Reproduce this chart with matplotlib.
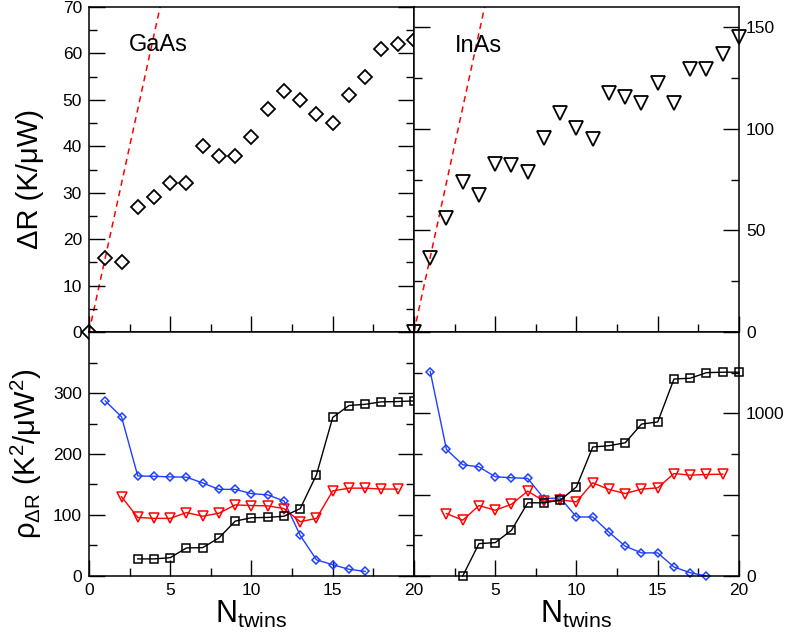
import numpy as np
import matplotlib
matplotlib.use('Agg')
import matplotlib.pyplot as plt
from matplotlib.ticker import MultipleLocator

plt.rcParams['font.family'] = ['Liberation Sans', 'DejaVu Sans']
plt.rcParams['mathtext.fontset'] = 'custom'
plt.rcParams['mathtext.rm'] = 'Liberation Sans'
plt.rcParams['mathtext.it'] = 'Liberation Sans:italic'

## top panels: thermal resistance vs number of twins
n_all = list(range(21))
gaas_dR = [0, 16, 15, 27, 29, 32, 32, 40, 38, 38, 42, 48, 52, 50, 47, 45, 51, 55, 61, 62, 63]
inas_dR = [0, 36.4, 56, 74, 67.5, 82.8, 82, 78.7, 95.4, 107.7, 100.6, 95, 117.5, 115.6,
           112.6, 122.5, 112.6, 129.5, 129.5, 136.7, 145]
gaas_slope = 16.0
inas_slope = 36.8

## bottom panels: rho_dR
n_blue = list(range(1, 18))
gaas_blue = [287, 261, 164, 163.5, 162.5, 162, 152.5, 142, 142, 135, 133, 123, 66.5, 26.5, 18.5, 11, 7.5]
n_red = list(range(2, 20))
gaas_red = [130, 96, 94.5, 94.5, 104, 98, 103, 116.5, 115.5, 115, 110.5, 89, 94.5, 139.5, 144, 144, 142.5, 142.5]
n_blk = list(range(3, 21))
gaas_blk = [28, 28, 30, 46, 46.5, 62.5, 90, 95.5, 96, 98, 110.5, 166, 260, 279.5, 281.5, 285.5, 286, 287]

n_blue2 = list(range(1, 19))
inas_blue = [1257, 778, 684, 671, 610, 604, 600, 476, 480, 363, 363, 269, 183, 142, 142, 55, 20, 0]
inas_red = [384, 343, 433, 404, 441, 522, 460, 468, 456, 573, 532, 507, 534, 542, 630, 620, 624, 626]
inas_blk = [0, 199, 205, 281, 450, 450, 466, 548, 793, 801, 819, 934, 947, 1211, 1216, 1250, 1253, 1253]

blue = '#1f3fff'
red = '#ff0000'

fig = plt.figure(figsize=(7.87, 6.38), dpi=100)
L, M, R = 0.1131, 0.526, 0.939
B, Y, T = 0.0972, 0.4796, 0.989
ax1 = fig.add_axes([L, Y, M - L, T - Y])
ax2 = fig.add_axes([M, Y, R - M, T - Y])
ax3 = fig.add_axes([L, B, M - L, Y - B])
ax4 = fig.add_axes([M, B, R - M, Y - B])

xl = np.array([0, 20])
ax1.plot(xl, gaas_slope * xl, ls=(0, (4, 3)), color=red, lw=1.1, zorder=1)
ax1.plot(n_all, gaas_dR, ls='none', marker='D', ms=7.2, mfc='none', mec='black', mew=1.3, clip_on=False)
ax2.plot(xl, inas_slope * xl, ls=(0, (4, 3)), color=red, lw=1.1, zorder=1)
ax2.plot(n_all, inas_dR, ls='none', marker='v', ms=10, mfc='none', mec='black', mew=1.3, clip_on=False)

ax1.text(2.45, 60.5, 'GaAs', fontsize=17)
ax2.text(2.5, 138, 'InAs', fontsize=17)

for ax, nb, yb, yr, yk in [(ax3, n_blue, gaas_blue, gaas_red, gaas_blk),
                           (ax4, n_blue2, inas_blue, inas_red, inas_blk)]:
    ax.plot(nb, yb, color=blue, lw=1.0, marker='D', ms=4.2, mfc='none', mec=blue, mew=1.1, clip_on=False)
    ax.plot(n_red, yr, color=red, lw=1.0, marker='v', ms=7, mfc='none', mec=red, mew=1.1, clip_on=False)
    ax.plot(n_blk, yk, color='black', lw=1.0, marker='s', ms=6, mfc='none', mec='black', mew=1.1, clip_on=False)

for ax in (ax1, ax2, ax3, ax4):
    ax.set_xlim(0, 20)
    ax.xaxis.set_major_locator(MultipleLocator(5))
    ax.xaxis.set_minor_locator(MultipleLocator(2.5))
    ax.tick_params(which='both', direction='in', left=True, right=True, top=False, bottom=True,
                   labelsize=12.5, width=1.0, pad=5)
    ax.tick_params(which='major', length=11.5)
    ax.tick_params(which='minor', length=6)
    for s in ax.spines.values():
        s.set_linewidth(1.1)

ax1.set_ylim(0, 70)
ax1.yaxis.set_major_locator(MultipleLocator(10))
ax1.yaxis.set_minor_locator(MultipleLocator(5))
ax1.tick_params(labelbottom=False)

ax2.set_ylim(0, 160)
ax2.yaxis.set_major_locator(MultipleLocator(50))
ax2.yaxis.set_minor_locator(MultipleLocator(25))
ax2.tick_params(labelbottom=False, labelleft=False, labelright=True)

ax3.set_ylim(0, 400)
ax3.set_yticks([0, 100, 200, 300, 400])
ax3.set_yticklabels(['0', '100', '200', '300', ''])
ax3.yaxis.set_minor_locator(MultipleLocator(50))
ax3.set_xticks([0, 5, 10, 15, 20])

ax4.set_ylim(0, 1500)
ax4.set_yticks([0, 500, 1000, 1500])
ax4.set_yticklabels(['0', '', '1000', ''])
ax4.yaxis.set_minor_locator(MultipleLocator(250))
ax4.tick_params(labelleft=False, labelright=True)
ax4.set_xticks([0, 5, 10, 15, 20])
ax4.set_xticklabels(['', '5', '10', '15', '20'])

ax1.set_ylabel('ΔR (K/μW)', fontsize=21)
ax1.yaxis.set_label_coords(-0.14, 0.47)
ax3.set_ylabel(r'$\mathregular{ρ_{ΔR}\ (K^2/μW^2)}$', fontsize=21)
ax3.yaxis.set_label_coords(-0.14, 0.5)
for ax in (ax3, ax4):
    ax.set_xlabel(r'$\mathregular{N_{twins}}$', fontsize=22, labelpad=1)

fig.savefig('out.png', dpi=100)
